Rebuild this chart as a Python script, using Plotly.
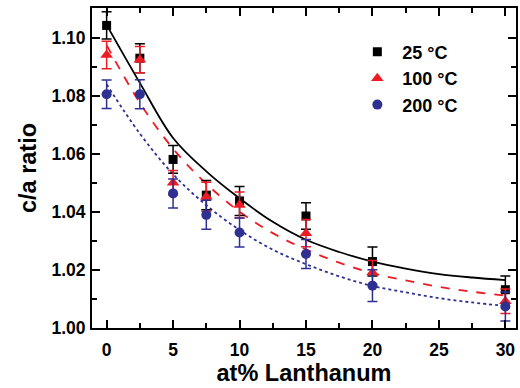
import plotly.graph_objects as go

# measured data
x_pts = [0, 2.5, 5, 7.5, 10, 15, 20, 30]
y_25 = [1.1043, 1.0930, 1.0581, 1.0458, 1.0438, 1.0386, 1.0229, 1.0132]
e_25 = [0.0047, 0.0050, 0.0048, 0.0050, 0.0050, 0.0046, 0.0050, 0.0047]
y_100 = [1.0941, 1.0925, 1.0501, 1.0452, 1.0424, 1.0327, 1.0191, 1.0092]
e_100 = [0.0047, 0.0045, 0.0042, 0.0050, 0.0045, 0.0047, 0.0042, 0.0042]
y_200 = [1.0806, 1.0806, 1.0464, 1.0390, 1.0329, 1.0255, 1.0146, 1.0074]
e_200 = [0.0049, 0.0050, 0.0050, 0.0050, 0.0050, 0.0050, 0.0055, 0.0050]

# fitted curves
x_fit = [0, 2.5, 5, 7.5, 10, 12.5, 15, 17.5, 20, 22.5, 25, 27.5, 30]
f_25 = [1.1045, 1.0845, 1.0655, 1.0540, 1.0447, 1.0366, 1.0304, 1.0262, 1.0229, 1.0205, 1.0186, 1.0174, 1.0165]
f_100 = [1.0975, 1.0776, 1.0618, 1.0497, 1.0401, 1.0327, 1.0271, 1.0225, 1.0189, 1.0164, 1.0142, 1.0125, 1.0112]
f_200 = [1.0840, 1.0670, 1.0530, 1.0423, 1.0338, 1.0270, 1.0220, 1.0178, 1.0145, 1.0123, 1.0103, 1.0088, 1.0076]

labels = ["25 °C", "100 °C", "200 °C"]
colors = ["#000000", "#ED1C24", "#2E3192"]
symbols = ["square", "triangle-up", "circle"]
dashes = ["solid", "dash", "dot"]
sizes = [9, 11, 10]

FONT = "Liberation Sans, Arial, sans-serif"

fig = go.Figure()
for f, c, d in zip([f_25, f_100, f_200], colors, dashes):
    fig.add_trace(go.Scatter(x=x_fit, y=f, mode="lines", line=dict(color=c, dash=d, width=1.8, shape="spline"),
                             showlegend=False, hoverinfo="skip"))
for y, e, lab, c, s, sz in zip([y_25, y_100, y_200], [e_25, e_100, e_200], labels, colors, symbols, sizes):
    fig.add_trace(go.Scatter(x=x_pts, y=y, mode="markers", name=lab,
                             marker=dict(color=c, symbol=s, size=sz, line=dict(width=0)),
                             error_y=dict(type="data", array=e, visible=True, color=c, thickness=1.5, width=5)))

axis_common = dict(showline=True, linecolor="black", linewidth=2, mirror="ticks", ticks="inside",
                   tickcolor="black", tickwidth=1.5, ticklen=8, showgrid=False, zeroline=False,
                   tickfont=dict(family=FONT, size=17.5, color="black", weight="bold"))

fig.update_xaxes(range=[-1.1, 30.8], tickvals=[0, 5, 10, 15, 20, 25, 30],
                 minor=dict(tickvals=[2.5, 7.5, 12.5, 17.5, 22.5, 27.5], ticks="inside", ticklen=5,
                            tickcolor="black", tickwidth=1.5),
                 title=dict(text="at% Lanthanum", font=dict(family=FONT, size=23.5, color="black", weight="bold"),
                            standoff=2),
                 ticklabelstandoff=5, **axis_common)
fig.update_yaxes(range=[1.0, 1.1103], tickvals=[1.00, 1.02, 1.04, 1.06, 1.08, 1.10], tickformat=".2f",
                 minor=dict(tickvals=[1.01, 1.03, 1.05, 1.07, 1.09], ticks="inside", ticklen=5,
                            tickcolor="black", tickwidth=1.5),
                 title=dict(text="c/a ratio", font=dict(family=FONT, size=23.5, color="black", weight="bold"),
                            standoff=8),
                 ticklabelstandoff=1, **axis_common)

fig.update_layout(width=520, height=388, margin=dict(l=92, r=2, t=8, b=60),
                  plot_bgcolor="white", paper_bgcolor="white",
                  legend=dict(x=0.614, y=0.92, xanchor="left", yanchor="top", bgcolor="rgba(0,0,0,0)",
                              font=dict(family=FONT, size=18, color="black", weight="bold"),
                              itemwidth=40, tracegroupgap=0))

fig.write_html("out.html")
